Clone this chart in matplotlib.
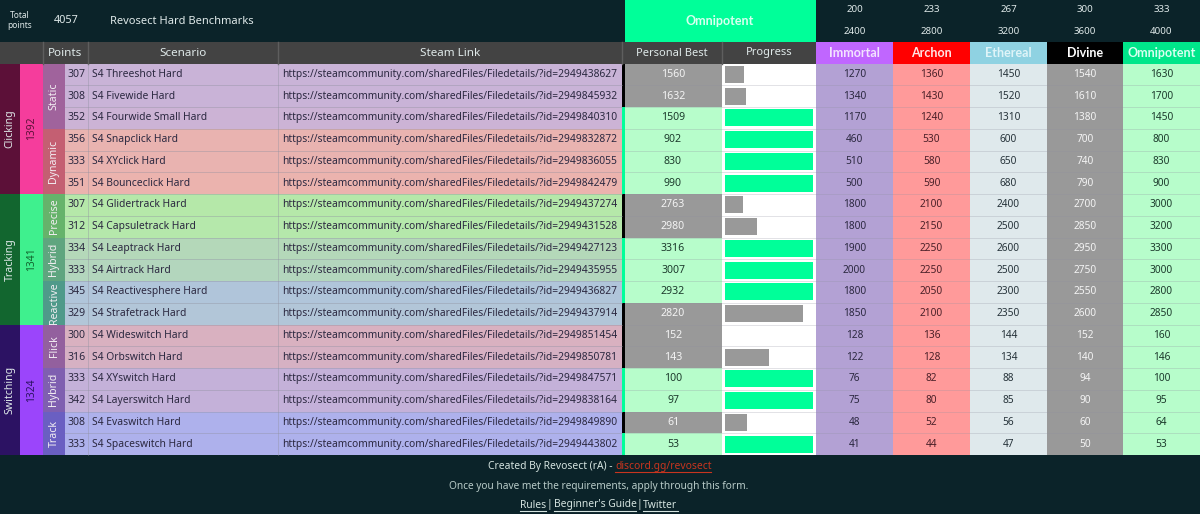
import matplotlib
matplotlib.use('Agg')
import matplotlib.pyplot as plt
from matplotlib.patches import Rectangle

plt.rcParams['font.family'] = ['Noto Sans', 'DejaVu Sans']

points = [307, 308, 352, 356, 333, 351, 307, 312, 334, 333, 345, 329, 300, 316, 333, 342, 308, 333]
scenarios = ['S4 Threeshot Hard', 'S4 Fivewide Hard', 'S4 Fourwide Small Hard', 'S4 Snapclick Hard',
             'S4 XYclick Hard', 'S4 Bounceclick Hard', 'S4 Glidertrack Hard', 'S4 Capsuletrack Hard',
             'S4 Leaptrack Hard', 'S4 Airtrack Hard', 'S4 Reactivesphere Hard', 'S4 Strafetrack Hard',
             'S4 Wideswitch Hard', 'S4 Orbswitch Hard', 'S4 XYswitch Hard', 'S4 Layerswitch Hard',
             'S4 Evaswitch Hard', 'S4 Spaceswitch Hard']
steam_ids = [2949438627, 2949845932, 2949840310, 2949832872, 2949836055, 2949842479,
             2949437274, 2949431528, 2949427123, 2949435955, 2949436827, 2949437914,
             2949851454, 2949850781, 2949847571, 2949838164, 2949849890, 2949443802]
personal_best = [1560, 1632, 1509, 902, 830, 990, 2763, 2980, 3316, 3007, 2932, 2820, 152, 143, 100, 97, 61, 53]
progress = [0.22, 0.24, 1, 1, 1, 1, 0.21, 0.37, 1, 1, 1, 0.88, 0, 0.5, 1, 1, 0.25, 1]

immortal = [1270, 1340, 1170, 460, 510, 500, 1800, 1800, 1900, 2000, 1800, 1850, 128, 122, 76, 75, 48, 41]
archon = [1360, 1430, 1240, 530, 580, 590, 2100, 2150, 2250, 2250, 2050, 2100, 136, 128, 82, 80, 52, 44]
ethereal = [1450, 1520, 1310, 600, 650, 680, 2400, 2500, 2600, 2500, 2300, 2350, 144, 134, 88, 85, 56, 47]
divine = [1540, 1610, 1380, 700, 740, 790, 2700, 2850, 2950, 2750, 2550, 2600, 152, 140, 94, 90, 60, 50]
omnipotent = [1630, 1700, 1450, 800, 830, 900, 3000, 3200, 3300, 3000, 2800, 2850, 160, 146, 100, 95, 64, 53]

tier_names = ['Immortal', 'Archon', 'Ethereal', 'Divine', 'Omnipotent']
tier_points = [200, 233, 267, 300, 333]
tier_totals = [2400, 2800, 3200, 3600, 4000]

# (name, total, number of rows, dark colour, light colour)
categories = [('Clicking', 1392, 6, '#5c1038', '#f53d9c'),
              ('Tracking', 1341, 6, '#12662f', '#3ff08e'),
              ('Switching', 1324, 6, '#2c1263', '#9b45fb')]
subcategories = [('Static', 3, '#a0639c'), ('Dynamic', 3, '#c45f72'),
                 ('Precise', 2, '#66b36b'), ('Hybrid', 2, '#5fa57f'), ('Reactive', 2, '#4f9a8a'),
                 ('Flick', 2, '#93609e'), ('Hybrid', 2, '#7f5fb0'), ('Track', 2, '#6a5fc2')]
row_colors = ['#c9b3d7', '#c9b3d7', '#ccb3d5', '#e9b3b0', '#e9b3b0', '#ebb3ae',
              '#b5e8a9', '#b5e8ab', '#b4d8b9', '#b3d6bd', '#b0c5da', '#b2c6d8',
              '#d9b1c0', '#d6b1c3', '#c4b1d9', '#c4b1d9', '#aeb1ec', '#aeb1ec']

BG = '#0b2329'
HEADER = '#434343'
GREEN = '#00ff99'
PASS = '#b7fdcb'
FAIL = '#999999'
LIGHT = '#dfe9e9'
DARK = '#2b2840'

top = 63.5
row_h = 21.75
n_rows = len(scenarios)

fig = plt.figure(figsize=(12, 5.14), dpi=100, facecolor=BG)
ax = fig.add_axes([0, 0, 1, 1])
ax.set_xlim(0, 1200)
ax.set_ylim(514, 0)
ax.axis('off')


def cell(x0, x1, y0, y1, color):
    ax.add_patch(Rectangle((x0, y0), x1 - x0, y1 - y0, facecolor=color, edgecolor='none'))


def label(x, y, s, size=7.6, color=DARK, ha='center', **kw):
    return ax.text(x, y, s, fontsize=size, color=color, ha=ha, va='center', **kw)


def bold_label(x, y, s, size, color):
    return label(x, y, s, size=size, color=color, family=['Lato', 'DejaVu Sans'], fontweight='bold')


# top strip
label(20, 15, 'Total', size=6, color=LIGHT)
label(20, 26, 'points', size=6, color=LIGHT)
label(66, 20.5, '4057', color=LIGHT, size=7.8)
label(110, 21, 'Revosect Hard Benchmarks', ha='left', color=LIGHT, size=8)
cell(625, 816, 0, 42, GREEN)
bold_label(720, 21, 'Omnipotent', 9, '#d9fff0')

tier_edges = [816, 893, 970, 1047, 1123, 1200]
tier_centers = [(tier_edges[i] + tier_edges[i + 1]) / 2 for i in range(5)]
for i in range(5):
    label(tier_centers[i], 10, tier_points[i], color=LIGHT, size=7)
    label(tier_centers[i], 32, tier_totals[i], color=LIGHT, size=7)

# header row
cell(0, 816, 42, top, HEADER)
for x in [43, 88, 278, 622, 721.5]:
    ax.plot([x, x], [42, top], color='#5e5e5e', lw=1)
label(65.5, 53, 'Points', color=LIGHT, size=8.4)
label(183, 53, 'Scenario', color=LIGHT, size=8.4)
label(450, 53, 'Steam Link', color=LIGHT, size=8.4)
label(672, 53, 'Personal Best', color=LIGHT, size=8)
label(769, 53, 'Progress', color=LIGHT, size=8)

tier_header_colors = ['#c066ff', '#ff0000', '#8fd2e2', '#000000', '#00e68a']
tier_text_colors = ['#f3e3ff', '#ffe5e5', '#dff4f8', '#ffffff', '#d9fff0']
for i in range(5):
    cell(tier_edges[i], tier_edges[i + 1], 42, top, tier_header_colors[i])
    bold_label(tier_centers[i], 53, tier_names[i], 9, tier_text_colors[i])

# left group columns
y = top
for name, total, n, dark, light in categories:
    h = n * row_h
    cell(0, 20, y, y + h, dark)
    cell(20, 43, y, y + h, light)
    label(10, y + h / 2, name, color=LIGHT, size=7.6, rotation=90)
    label(32, y + h / 2, total, color=dark, size=7.4, rotation=90)
    y += h

y = top
for name, n, color in subcategories:
    h = n * row_h
    cell(43, 65, y, y + h, color)
    label(54, y + h / 2, name, color='#f2eef2', size=7.6, rotation=90)
    y += h

# rows
tier_values = [immortal, archon, ethereal, divine, omnipotent]
tier_bg = ['#b3a1d4', '#ff9a9a', '#dfe9ec', '#999999', PASS]
tier_fg = [DARK, '#4a2028', '#26333a', '#f4f4f4', '#1c3a2c']
for i in range(n_rows):
    y0 = top + i * row_h
    y1 = y0 + row_h
    ym = y0 + row_h / 2
    passed = progress[i] >= 1

    cell(65, 622, y0, y1, row_colors[i])
    label(76.5, ym, points[i])
    label(92, ym, scenarios[i], ha='left', size=7.4)
    label(282, ym, 'https://steamcommunity.com/sharedFiles/Filedetails/?id=%d' % steam_ids[i], ha='left', size=7.37)

    cell(622, 625, y0, y1, GREEN if passed else '#000000')
    cell(625, 721.5, y0, y1, PASS if passed else FAIL)
    label(673, ym, personal_best[i], color='#1c3a2c' if passed else '#f4f4f4')
    cell(721.5, 816, y0, y1, '#ffffff')

    for t in range(5):
        cell(tier_edges[t], tier_edges[t + 1], y0, y1, tier_bg[t])
        label(tier_centers[t], ym, tier_values[t][i], color=tier_fg[t], size=7.3)

# progress bars
bar_y = [top + (i + 0.5) * row_h for i in range(n_rows)]
bar_w = [p * 88.5 for p in progress]
bar_c = [GREEN if p >= 1 else FAIL for p in progress]
ax.barh(bar_y, bar_w, height=17, left=724.7, color=bar_c, zorder=3)

# row separators
for i in range(1, n_rows):
    yl = top + i * row_h
    ax.plot([65, 622], [yl, yl], color='#8f8f9f', lw=0.6, alpha=0.45, zorder=2)
    ax.plot([625, 1200], [yl, yl], color='#8f8f9f', lw=0.6, alpha=0.3, zorder=2)
for x in [88, 278]:
    ax.plot([x, x], [top, top + n_rows * row_h], color='#8f8f9f', lw=0.6, alpha=0.45, zorder=2)

# footer
FOOT = '#d5e4e0'
label(613, 466, 'Created By Revosect (rA) -', ha='right', color=FOOT, size=7.4)
label(615, 466, 'discord.gg/revosect', ha='left', color='#c8351f', size=7.4)
ax.plot([615, 711], [472, 472], color='#c8351f', lw=0.8)
label(599, 486, 'Once you have met the requirements, apply through this form.', color='#b8cbc8', size=7.3)
label(520, 505, 'Rules', ha='left', color=FOOT, size=7.4)
label(549.5, 505, '|', color=FOOT, size=7.4)
label(554, 505, "Beginner's Guide", ha='left', color=FOOT, size=7.4)
label(639.5, 505, '|', color=FOOT, size=7.4)
label(643, 505, 'Twitter', ha='left', color=FOOT, size=7.4)
for x0, x1 in [(520, 546), (554, 636), (643, 678)]:
    ax.plot([x0, x1], [511, 511], color=FOOT, lw=0.8)

fig.savefig('out.png', dpi=100, facecolor=BG)
